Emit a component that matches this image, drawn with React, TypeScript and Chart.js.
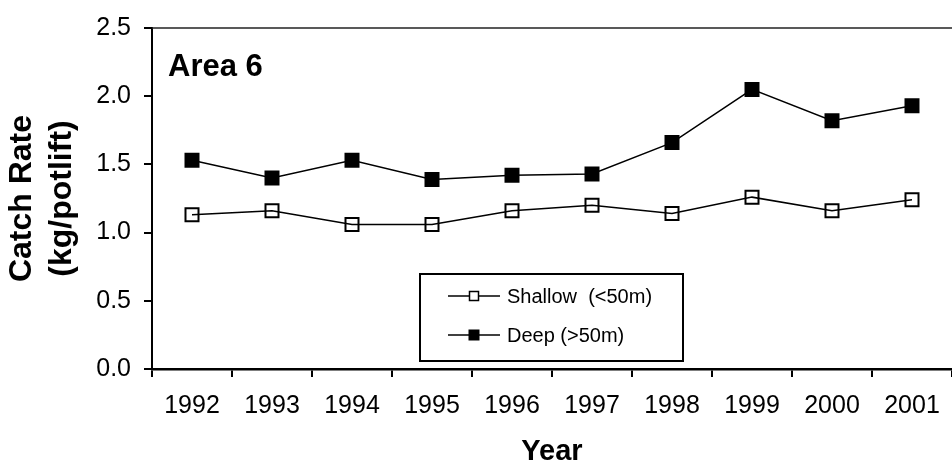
import React, { useEffect, useRef } from "react";
import { Chart, registerables } from "chart.js";

Chart.register(...registerables);

const years = ["1992", "1993", "1994", "1995", "1996", "1997", "1998", "1999", "2000", "2001"];
const shallow = [1.13, 1.16, 1.06, 1.06, 1.16, 1.2, 1.14, 1.26, 1.16, 1.24];
const deep = [1.53, 1.4, 1.53, 1.39, 1.42, 1.43, 1.66, 2.05, 1.82, 1.93];
const seriesLabels = ["Shallow  (<50m)", "Deep (>50m)"];
const yTicks = [0, 0.5, 1.0, 1.5, 2.0, 2.5];
const panelTitle = "Area 6";
const xTitle = "Year";
const yTitle = ["Catch Rate", "(kg/potlift)"];

const FONT = "Arial, 'Liberation Sans', Helvetica, sans-serif";

const overlayPlugin = {
  id: "overlay",
  afterDraw(chart: any) {
    const { ctx, chartArea } = chart;
    ctx.save();
    // top border of plot area
    ctx.strokeStyle = "#222";
    ctx.lineWidth = 1.5;
    ctx.beginPath();
    ctx.moveTo(chartArea.left, chartArea.top);
    ctx.lineTo(chartArea.right, chartArea.top);
    ctx.stroke();

    // panel title
    ctx.fillStyle = "#000";
    ctx.font = `bold 31px ${FONT}`;
    ctx.textAlign = "left";
    ctx.textBaseline = "alphabetic";
    ctx.fillText(panelTitle, chartArea.left + 16, chartArea.top + 48);

    // legend box
    const bx = chartArea.left + 268;
    const by = chartArea.top + 246;
    const bw = 263;
    const bh = 87;
    ctx.fillStyle = "#fff";
    ctx.fillRect(bx, by, bw, bh);
    ctx.strokeStyle = "#000";
    ctx.lineWidth = 2;
    ctx.strokeRect(bx, by, bw, bh);

    const rows = [by + 22, by + 61];
    chart.data.datasets.forEach((ds: any, i: number) => {
      const y = rows[i];
      ctx.strokeStyle = "#000";
      ctx.lineWidth = 1.5;
      ctx.beginPath();
      ctx.moveTo(bx + 28, y);
      ctx.lineTo(bx + 80, y);
      ctx.stroke();
      const cx = bx + 54;
      if (i === 0) {
        ctx.fillStyle = "#fff";
        ctx.fillRect(cx - 4.5, y - 4.5, 9, 9);
        ctx.lineWidth = 1.5;
        ctx.strokeRect(cx - 4.5, y - 4.5, 9, 9);
      } else {
        ctx.fillStyle = "#000";
        ctx.fillRect(cx - 5.5, y - 5.5, 11, 11);
      }
      ctx.fillStyle = "#000";
      ctx.font = `20px ${FONT}`;
      ctx.textAlign = "left";
      ctx.textBaseline = "middle";
      ctx.fillText(ds.label, bx + 87, y + 1);
    });
    ctx.restore();
  },
};

export default function App() {
  const ref = useRef<HTMLCanvasElement | null>(null);

  useEffect(() => {
    if (!ref.current) return;
    const chart = new Chart(ref.current, {
      type: "line",
      data: {
        labels: years,
        datasets: [
          {
            label: seriesLabels[0],
            data: shallow,
            borderColor: "#000",
            borderWidth: 1.5,
            pointStyle: "rect",
            pointRadius: 9.2,
            pointBackgroundColor: "rgba(0,0,0,0)",
            pointBorderColor: "#000",
            pointBorderWidth: 2,
            tension: 0,
          },
          {
            label: seriesLabels[1],
            data: deep,
            borderColor: "#000",
            borderWidth: 1.5,
            pointStyle: "rect",
            pointRadius: 10.6,
            pointBackgroundColor: "#000",
            pointBorderColor: "#000",
            pointBorderWidth: 0,
            tension: 0,
          },
        ],
      },
      options: {
        responsive: false,
        animation: false,
        events: [],
        layout: { autoPadding: false, padding: { left: 0, right: 0, top: 24, bottom: 0 } },
        plugins: {
          legend: { display: false },
          tooltip: { enabled: false },
          title: { display: false },
        },
        scales: {
          x: {
            offset: true,
            grid: {
              offset: true,
              drawOnChartArea: false,
              drawTicks: true,
              tickLength: 8,
              color: "#000",
              lineWidth: 2,
            },
            border: { display: true, color: "#000", width: 2.5 },
            ticks: {
              color: "#000",
              font: { family: FONT, size: 25 },
              padding: 14,
              maxRotation: 0,
              autoSkip: false,
            },
            title: {
              display: true,
              text: xTitle,
              color: "#000",
              font: { family: FONT, size: 29, weight: "bold", lineHeight: 1 },
              padding: { top: 0, bottom: -1 },
            },
            afterFit(scale: any) {
              scale.height = 96;
              scale.paddingLeft = 0;
              scale.paddingRight = 0;
            },
          },
          y: {
            min: 0,
            max: 2.5,
            afterBuildTicks(scale: any) {
              scale.ticks = yTicks.map((v) => ({ value: v }));
            },
            grid: {
              drawOnChartArea: false,
              drawTicks: true,
              tickLength: 8,
              color: "#000",
              lineWidth: 2,
            },
            border: { display: true, color: "#000", width: 2 },
            ticks: {
              color: "#000",
              font: { family: FONT, size: 25 },
              padding: 13,
              callback: (v: any) => Number(v).toFixed(1),
            },
            title: {
              display: true,
              text: yTitle,
              color: "#000",
              font: { family: FONT, size: 32, weight: "bold", lineHeight: 1.25 },
              padding: { top: 2, bottom: 0 },
            },
            afterFit(scale: any) {
              scale.width = 152;
            },
          },
        },
      },
      plugins: [overlayPlugin],
    });
    return () => chart.destroy();
  }, []);

  return (
    <div style={{ position: "absolute", left: 0, top: 0, width: 952, height: 465, background: "#fff" }}>
      <canvas ref={ref} width={952} height={465} style={{ width: 952, height: 465, display: "block" }} />
    </div>
  );
}
